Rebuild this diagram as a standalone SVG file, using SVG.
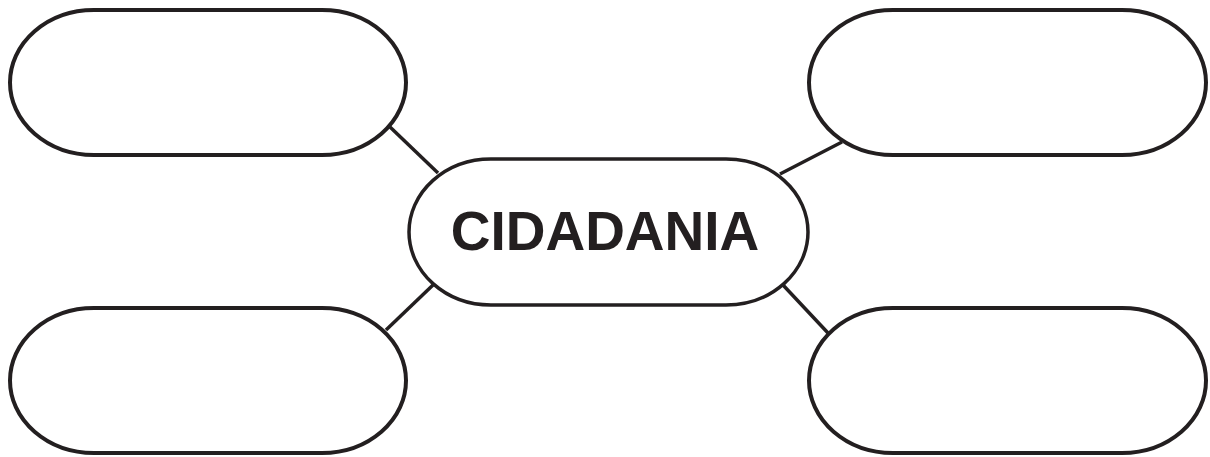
<svg xmlns="http://www.w3.org/2000/svg" width="1210" height="457" viewBox="0 0 1210 457">
<style>
.box{fill:#fff;stroke:#231f20;stroke-width:4}
.center{fill:#fff;stroke:#231f20;stroke-width:3.5}
.conn line{stroke:#231f20;stroke-width:3.5}
.lbl{font-family:"Liberation Sans",Arial,sans-serif;font-weight:bold;font-size:55px;fill:#231f20;text-anchor:middle}
</style>
<rect width="1210" height="457" fill="#fff"/>
<g id="connectors" class="conn">
<line x1="390" y1="127" x2="438" y2="173"/>
<line x1="842" y1="142" x2="780" y2="174"/>
<line x1="433" y1="285" x2="386" y2="330"/>
<line x1="783" y1="285" x2="828" y2="333"/>
</g>
<g id="node-top-left"><rect class="box" x="10" y="10" width="396" height="145" rx="84" ry="72.5"/></g>
<g id="node-top-right"><rect class="box" x="809" y="10" width="397" height="145" rx="84" ry="72.5"/></g>
<g id="node-bottom-left"><rect class="box" x="10" y="308" width="396" height="145" rx="84" ry="72.5"/></g>
<g id="node-bottom-right"><rect class="box" x="809" y="308" width="397" height="145" rx="84" ry="72.5"/></g>
<g id="node-center"><rect class="center" x="409" y="159" width="399" height="146" rx="82" ry="73"/>
<text class="lbl" x="605" y="250">CIDADANIA</text></g>
</svg>
